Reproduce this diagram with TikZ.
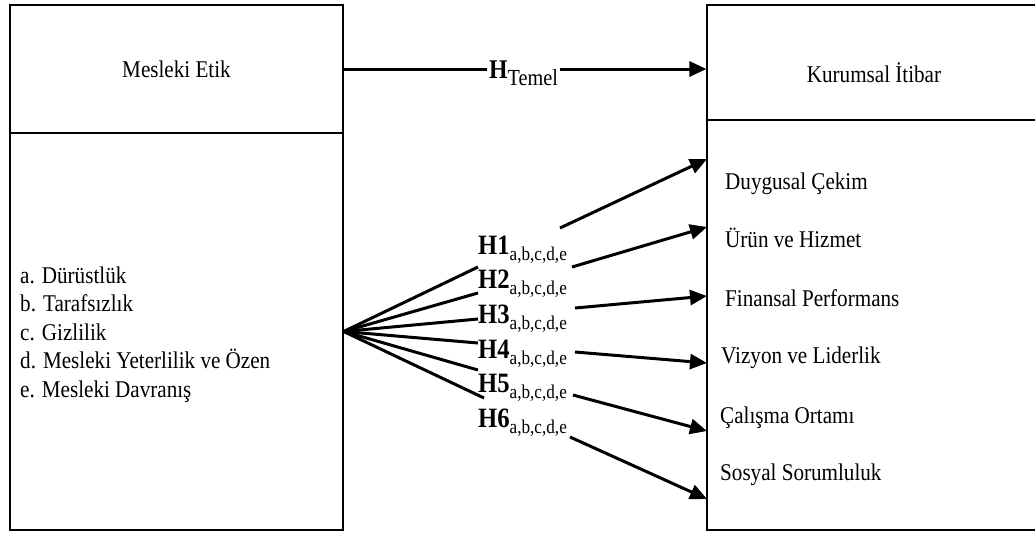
\documentclass[tikz,border=0pt]{standalone}
\usepackage{fontspec}
\setmainfont{Liberation Serif}[FakeStretch=0.88]
\usetikzlibrary{arrows.meta}
\newcommand\hyplabel[1]{{\fontsize{28}{28}\selectfont\bfseries H#1}\raisebox{-6pt}{\fontsize{19.5}{20}\selectfont a,b,c,d,e}}
\begin{document}
\begin{tikzpicture}[x=1pt,y=-1pt,
  box/.style={draw, line width=1.2pt, inner sep=0pt},
  txt/.style={font=\fontsize{24}{28}\selectfont, inner sep=0pt},
  hl/.style={inner sep=0pt, anchor=base west},
  conn/.style={line width=3pt},
  arr/.style={line width=3pt, -{Triangle[length=17pt,width=15pt]}},
]
\useasboundingbox (0,0) rectangle (1035,533);
% boxes
\node[box, minimum width=333pt, minimum height=128pt] (etik) at (176.5,69) {};
\node[box, minimum width=333pt, minimum height=397pt] (boyut) at (176.5,331.5) {};
\node[box, minimum width=336pt, minimum height=115pt] (itibar) at (875,62.5) {};
\node[box, minimum width=336pt, minimum height=410pt] (bilesen) at (875,325) {};
% titles
\node[txt, anchor=base] (t1) at (176.5,77) {Mesleki Etik};
\node[txt, anchor=base] (t2) at (874,82) {Kurumsal İtibar};
% left list
\node[txt, anchor=base west] (l1) at (20,283) {a. Dürüstlük};
\node[txt, anchor=base west] (l2) at (20,311.5) {b. Tarafsızlık};
\node[txt, anchor=base west] (l3) at (20,340) {c. Gizlilik};
\node[txt, anchor=base west] (l4) at (20,368.5) {d. Mesleki Yeterlilik ve Özen};
\node[txt, anchor=base west] (l5) at (20,397) {e. Mesleki Davranış};
% right list
\node[txt, anchor=base west] (r1) at (725,189) {Duygusal Çekim};
\node[txt, anchor=base west] (r2) at (725,247) {Ürün ve Hizmet};
\node[txt, anchor=base west] (r3) at (725,306) {Finansal Performans};
\node[txt, anchor=base west] (r4) at (721,363) {Vizyon ve Liderlik};
\node[txt, anchor=base west] (r5) at (720,423) {Çalışma Ortamı};
\node[txt, anchor=base west] (r6) at (720,480) {Sosyal Sorumluluk};
% main arrow
\draw[arr] (etik.east) -- (etik.east -| itibar.west);
\node[fill=white, inner xsep=2pt, inner ysep=2pt, anchor=base west] (temel) at (487,78)
  {{\fontsize{27}{27}\selectfont\bfseries H}\raisebox{-7pt}{\fontsize{23}{23}\selectfont Temel}};
% hypothesis labels
\node[hl] (h1) at (478,254) {\hyplabel{1}};
\node[hl] (h2) at (478,288) {\hyplabel{2}};
\node[hl] (h3) at (478,323) {\hyplabel{3}};
\node[hl] (h4) at (478,358) {\hyplabel{4}};
\node[hl] (h5) at (478,392) {\hyplabel{5}};
\node[hl] (h6) at (478,427) {\hyplabel{6}};
% fan
\coordinate (o) at (boyut.east);
\coordinate (i1) at (478,267);
\coordinate (i2) at (478,293);
\coordinate (i3) at (478,319);
\coordinate (i4) at (478,343);
\coordinate (i5) at (478,370);
\coordinate (i6) at (484,398);
\foreach \k in {1,...,6} {\draw[conn] (o) -- (i\k);}
% outgoing arrows
\coordinate (s1) at (560,228);
\coordinate (s2) at (572,267);
\coordinate (s3) at (575,308);
\coordinate (s4) at (575,352);
\coordinate (s5) at (573,395);
\coordinate (s6) at (570,437);
\coordinate (e1) at (707,159);
\coordinate (e2) at (707,227);
\coordinate (e3) at (707,296);
\coordinate (e4) at (707,363);
\coordinate (e5) at (707,431);
\coordinate (e6) at (707,499);
\foreach \k in {1,...,6} {\draw[arr] (s\k) -- (e\k);}
\end{tikzpicture}
\end{document}
